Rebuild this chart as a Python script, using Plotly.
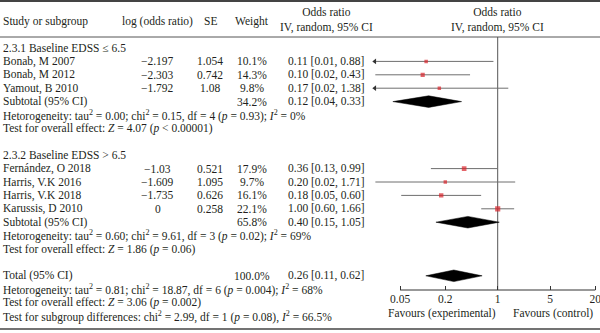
import numpy as np
import plotly.graph_objects as go

# ---------------- data ----------------
studies = ["Bonab, M 2007", "Bonab, M 2012", "Yamout, B 2010",
           "Fernández, O 2018", "Harris, V.K 2016", "Harris, V.K 2018", "Karussis, D 2010"]
group = [1, 1, 1, 2, 2, 2, 2]
log_or = [-2.197, -2.303, -1.792, -1.03, -1.609, -1.735, 0]
se = [1.054, 0.742, 1.08, 0.521, 1.095, 0.626, 0.258]
weight = [10.1, 14.3, 9.8, 17.9, 9.7, 16.1, 22.1]

group_titles = ["2.3.1 Baseline EDSS ≤ 6.5", "2.3.2 Baseline EDSS > 6.5"]
sub_or = [0.12, 0.40]
sub_lo = [0.04, 0.15]
sub_hi = [0.33, 1.05]
sub_weight = [34.2, 65.8]
sub_het = [
    "Hetorogeneity: tau<sup>2</sup> = 0.00; chi<sup>2</sup> = 0.15, df = 4 (<i>p</i> = 0.93); <i>I</i><sup>2</sup> = 0%",
    "Hetorogeneity: tau<sup>2</sup> = 0.60; chi<sup>2</sup> = 9.61, df = 3 (<i>p</i> = 0.02); <i>I</i><sup>2</sup> = 69%",
]
sub_test = [
    "Test for overall effect: <i>Z</i> = 4.07 (<i>p</i> &lt; 0.00001)",
    "Test for overall effect: <i>Z</i> = 1.86 (<i>p</i> = 0.06)",
]
total_or, total_lo, total_hi, total_weight = 0.26, 0.11, 0.62, 100.0
total_lines = [
    "Hetorogeneity: tau<sup>2</sup> = 0.81; chi<sup>2</sup> = 18.87, df = 6 (<i>p</i> = 0.004); <i>I</i><sup>2</sup> = 68%",
    "Test for overall effect: <i>Z</i> = 3.06 (<i>p</i> = 0.002)",
    "Test for subgroup differences: chi<sup>2</sup> = 2.99, df = 1 (<i>p</i> = 0.08), <i>I</i><sup>2</sup> = 66.5%",
]
tick_vals = [0.05, 0.2, 1, 5, 20]
tick_text = ["0.05", "0.2", "1", "5", "20"]

# ---------------- layout constants ----------------
W, H = 600, 333
FONT = "Liberation Serif"
TXT = "#231f20"
FS = 11.5
ROW0, PITCH = 48, 13.4
AXIS_Y = 290
HEAD_RULE = 37
CLIP = 0.023            # lower display limit of forest plot
X_AT_1, PX_DEC = 497.7, 75.0
r0 = np.log10(0.022)
r1 = (W - X_AT_1) / PX_DEC
dom0 = (X_AT_1 + PX_DEC * r0) / W

COL_STUDY, COL_LOG, COL_SE, COL_W, COL_OR = 1, 158, 210, 252, 326

def minus(s):
    return s.replace("-", "−")

rows = []
for g in (1, 2):
    rows.append(("title", g - 1))
    for i in range(len(studies)):
        if group[i] == g:
            rows.append(("study", i))
    rows.append(("sub", g - 1))
    rows.append(("text", sub_het[g - 1]))
    rows.append(("text", sub_test[g - 1]))
    rows.append(("blank", None))
rows.append(("total", None))
for t in total_lines:
    rows.append(("text", t))

ann = []
def add_text(px, y, text, anchor="left", size=FS):
    ann.append(dict(x=px / W, xref="paper", y=y, yref="y", text=text, showarrow=False,
                    xanchor=anchor, yanchor="middle",
                    font=dict(family=FONT, size=size, color=TXT)))

# header
add_text(COL_STUDY, 21, "Study or subgroup")
add_text(COL_LOG, 21, "log (odds ratio)", "center")
add_text(COL_SE, 21, "SE", "center")
add_text(COL_W, 21, "Weight", "center")
add_text(COL_OR, 20, "Odds ratio<br>IV, random, 95% CI", "center")
add_text(X_AT_1, 20, "Odds ratio<br>IV, random, 95% CI", "center")

ci_x, ci_y, arr_x, arr_y, sq_x, sq_y, sq_s = [], [], [], [], [], [], []
dia_x, dia_y = [], []
HALF_H = 5.8

def diamond(o, lo, hi, y):
    dia_x.extend([lo, o, hi, o, lo, None])
    dia_y.extend([y, y - HALF_H, y, y + HALF_H, y, None])

for k, (kind, v) in enumerate(rows):
    y = ROW0 + PITCH * k
    if kind == "title":
        add_text(COL_STUDY, y, group_titles[v])
    elif kind == "study":
        i = v
        o = np.exp(log_or[i])
        lo = np.exp(log_or[i] - 1.96 * se[i])
        hi = np.exp(log_or[i] + 1.96 * se[i])
        add_text(COL_STUDY, y, studies[i])
        add_text(COL_LOG, y, minus(str(log_or[i])), "center")
        add_text(COL_SE, y, str(se[i]), "center")
        add_text(COL_W, y, f"{weight[i]:.1f}%", "center")
        add_text(COL_OR, y, f"{o:.2f} [{lo:.2f}, {hi:.2f}]", "center")
        lo_d = max(lo, CLIP)
        ci_x.extend([lo_d, hi, None]); ci_y.extend([y, y, None])
        if lo < CLIP:
            arr_x.append(CLIP); arr_y.append(y)
        sq_x.append(o); sq_y.append(y); sq_s.append(1.1 * np.sqrt(weight[i]))
    elif kind == "sub":
        add_text(COL_STUDY, y, "Subtotal (95% CI)")
        add_text(COL_W, y, f"{sub_weight[v]:.1f}%", "center")
        add_text(COL_OR, y, f"{sub_or[v]:.2f} [{sub_lo[v]:.2f}, {sub_hi[v]:.2f}]", "center")
        diamond(sub_or[v], sub_lo[v], sub_hi[v], y)
    elif kind == "total":
        add_text(COL_STUDY, y, "Total (95% CI)")
        add_text(COL_W, y, f"{total_weight:.1f}%", "center")
        add_text(COL_OR, y, f"{total_or:.2f} [{total_lo:.2f}, {total_hi:.2f}]", "center")
        diamond(total_or, total_lo, total_hi, y)
    elif kind == "text":
        add_text(COL_STUDY, y, v)

add_text(441.7, 313, "Favours (experimental)", "center")
add_text(553, 313, "Favours (control)", "center")

fig = go.Figure()
fig.add_trace(go.Scatter(x=[1, 1], y=[HEAD_RULE, AXIS_Y], mode="lines",
                         line=dict(color="#555555", width=1), hoverinfo="skip"))
fig.add_trace(go.Scatter(x=[tick_vals[0], tick_vals[-1]], y=[AXIS_Y, AXIS_Y], mode="lines",
                         line=dict(color="#333333", width=1), hoverinfo="skip", cliponaxis=False))
fig.add_trace(go.Scatter(x=ci_x, y=ci_y, mode="lines", line=dict(color="#6e6e6e", width=1),
                         hoverinfo="skip"))
fig.add_trace(go.Scatter(x=arr_x, y=arr_y, mode="markers", cliponaxis=False,
                         marker=dict(symbol="triangle-left", size=5, color="#333333"),
                         hoverinfo="skip"))
fig.add_trace(go.Scatter(x=dia_x, y=dia_y, mode="lines", fill="toself", fillcolor="#000000",
                         line=dict(color="#000000", width=0.5), hoverinfo="skip"))
fig.add_trace(go.Scatter(x=sq_x, y=sq_y, mode="markers",
                         marker=dict(symbol="square", size=sq_s, color="#d9232b", line=dict(width=0)),
                         hoverinfo="skip"))

shapes = [
    dict(type="line", xref="paper", yref="y", x0=0, x1=1, y0=1, y1=1, line=dict(color="#444444", width=2)),
    dict(type="line", xref="paper", yref="y", x0=0, x1=1, y0=HEAD_RULE, y1=HEAD_RULE, line=dict(color="#555555", width=1)),
    dict(type="line", xref="paper", yref="y", x0=0, x1=1, y0=329, y1=329, line=dict(color="#444444", width=1.5)),
]

fig.update_layout(
    width=W, height=H, margin=dict(l=0, r=0, t=0, b=0),
    paper_bgcolor="white", plot_bgcolor="white", showlegend=False,
    annotations=ann, shapes=shapes,
    xaxis=dict(type="log", range=[r0, r1], domain=[dom0, 1], anchor="free",
               position=(H - AXIS_Y) / H, showline=False, showgrid=False, zeroline=False,
               ticks="inside", ticklen=4, tickwidth=1, tickcolor="#333333",
               tickvals=tick_vals, ticktext=tick_text, ticklabeloverflow="allow",
               tickfont=dict(family=FONT, size=FS, color=TXT), fixedrange=True),
    yaxis=dict(range=[H, 0], domain=[0, 1], visible=False, fixedrange=True),
)

fig.write_html("out.html")
